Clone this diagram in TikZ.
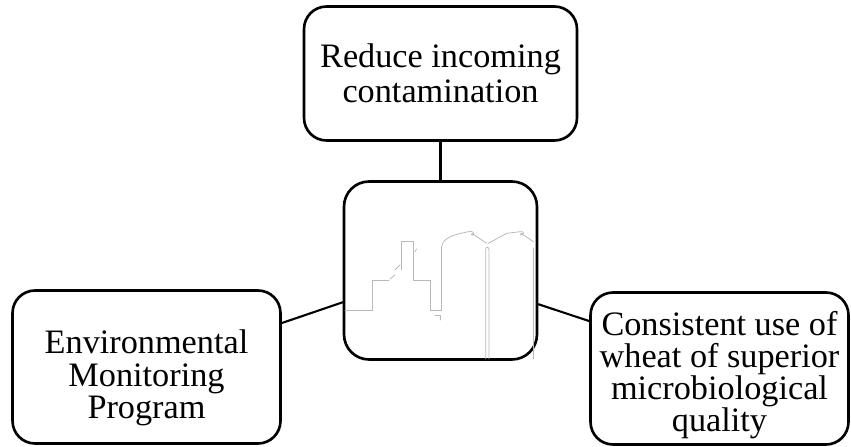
\documentclass[tikz,border=0pt]{standalone}
\usepackage{fontspec}
\setmainfont{Liberation Serif}
\tikzset{
  goalbox/.style={draw=black,line width=1.5pt,rounded corners=0.45cm,align=center,
    font=\fontsize{19.5}{18.3}\selectfont,inner sep=2pt},
  link/.style={line width=1.2pt},
  sketch/.style={draw=gray!55,line width=0.45pt}
}

\begin{document}
\begin{tikzpicture}[line cap=round,line join=round,x=0.02cm,y=-0.02cm]
		\useasboundingbox (0,0) rectangle (851,446);
		\node[goalbox,minimum width=5.46cm,minimum height=2.68cm,font=\fontsize{19.5}{19.8}\selectfont] (top) at (440.5,73.5) {Reduce incoming\\contamination};
		\node[goalbox,minimum width=3.86cm,minimum height=3.56cm,rounded corners=0.5cm] (hub) at (440.5,270.5) {};
		\node[goalbox,minimum width=5.36cm,minimum height=3.06cm] (left) at (146.5,367) {\rule{0pt}{26pt}Environmental\\Monitoring\\Program};
		\node[goalbox,minimum width=5.16cm,minimum height=3.04cm] (right) at (719.5,368.5) {\rule{0pt}{21pt}Consistent use of\\wheat of superior\\microbiological\\quality};
		\draw[link] (top.south) -- (hub.north);
		\draw[link] (left.18) -- (hub.198);
		\draw[link] (hub.341) -- (right.160);
		% mill and silos inside the hub
		\draw[sketch] (345,310) -- (372,310) -- (372,280) -- (389,280);
		\draw[sketch] (390,279) -- (395,275);
		\draw[sketch] (395,270) -- (400,265);
		\draw[sketch] (401.7,270) -- (401.7,241.7) -- (413.3,241.7) -- (413.3,280) -- (430.7,280) -- (430.7,310) -- (441.7,310) -- (441.7,246.7);
		\draw[sketch] (415,252) -- (416.5,249);
		\draw[sketch] (441.7,246.7) .. controls (442,240) and (450,236) .. (460,233.5) -- (468.3,231.7) .. controls (472,231) and (475,232) .. (473.3,235) .. controls (472,236) and (470,234) .. (472,233.5) -- (486.7,243.3);
		\draw[sketch] (488.3,243.3) -- (506.7,233.3) -- (520,231.7) .. controls (523,231) and (525,233) .. (522,235) .. controls (520,235.5) and (519,233) .. (521.5,233.5) -- (533.3,241.7);
		\draw[sketch] (485.7,359) -- (485.7,249.5) .. controls (485.7,246.5) and (489,246.5) .. (489,249.5) -- (489,359);
		\draw[sketch] (533.3,248) -- (533.3,359);
		\draw[sketch] (435,315) -- (440,315) -- (440,320);
\end{tikzpicture}
\end{document}
